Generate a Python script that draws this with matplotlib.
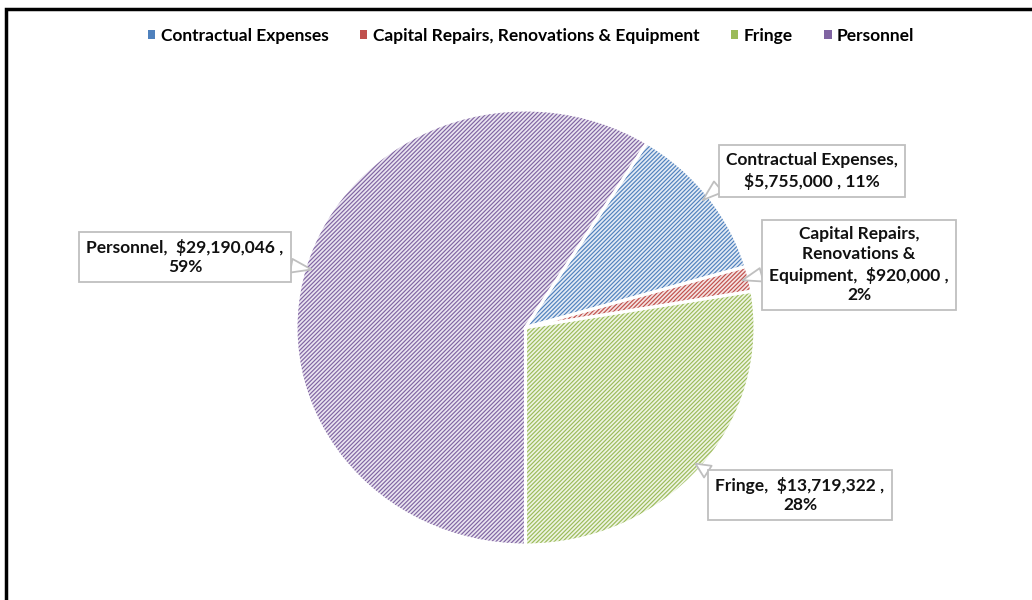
import matplotlib
matplotlib.use("Agg")
import matplotlib.pyplot as plt
from matplotlib.patches import Rectangle, Patch
import numpy as np

categories = ["Contractual Expenses", "Capital Repairs, Renovations & Equipment", "Fringe", "Personnel"]
values = [5755000, 920000, 13719322, 29190046]
value_labels = ["$5,755,000", "$920,000", "$13,719,322", "$29,190,046"]
pct_labels = ["11%", "2%", "28%", "59%"]
label_texts = [
    "Contractual Expenses,\n$5,755,000 , 11%",
    "Capital Repairs,\nRenovations &\nEquipment,  $920,000 ,\n2%",
    "Fringe,  $13,719,322 ,\n28%",
    "Personnel,  $29,190,046 ,\n59%",
]
hatch_colors = ["#4F81BD", "#C0504D", "#9BBB59", "#8064A2"]
face_colors = ["#E3EBF5", "#F5E3E2", "#EEF4E3", "#EAE5F0"]

plt.rcParams['font.family'] = ['Lato', 'DejaVu Sans']
plt.rcParams['hatch.linewidth'] = 0.85

W, H = 1032, 600
fig = plt.figure(figsize=(W / 100, H / 100), dpi=100)

cx, cy, rx, ry = 525.5, 327.5, 229.5, 217.5
ax = fig.add_axes([(cx - rx) / W, (H - cy - ry) / H, 2 * rx / W, 2 * ry / H])

total = sum(values)
start = 90 - (180 - 360 * (values[0] + values[1] + values[2]) / total)

wedges, _ = ax.pie(values, colors=face_colors, startangle=start, counterclock=False,
                   radius=1, wedgeprops=dict(linewidth=0))
for w, hc in zip(wedges, hatch_colors):
    w.set_hatch("////////")
    w.set_edgecolor(hc)
    w.set_linewidth(0)
ax.pie(values, startangle=start, counterclock=False, radius=1,
       wedgeprops=dict(fill=False, edgecolor="white", linewidth=2.2))
ax.set_xlim(-1, 1)
ax.set_ylim(-1, 1)
ax.set_aspect("auto")
ax.axis("off")

# label box centres (pixels) and anchor side on the box
box_px = [(812, 171), (859, 265), (800, 495), (185, 257)]
relpos = [(0.0, 0.25), (0.0, 0.4), (0.0, 1.0), (1.0, 0.3)]

def px2data(px, py):
    return ((px - cx) / rx, (cy - py) / ry)

for w, txt, (bx, by), rp in zip(wedges, label_texts, box_px, relpos):
    mid = np.deg2rad((w.theta1 + w.theta2) / 2)
    tip = (0.97 * np.cos(mid), 0.97 * np.sin(mid))
    ax.annotate(txt, xy=tip, xytext=px2data(bx, by), textcoords="data",
                ha="center", va="center", fontsize=12.5, fontweight="bold",
                color="#111111", linespacing=1.3, annotation_clip=False,
                bbox=dict(boxstyle="square,pad=0.4", fc="white", ec="#BFBFBF", lw=1.3),
                arrowprops=dict(arrowstyle="wedge,tail_width=0.8,shrink_factor=0.5",
                                fc="white", ec="#BFBFBF", lw=1.3, relpos=rp,
                                shrinkA=0, shrinkB=0))

handles = [Patch(facecolor=hc, edgecolor="none") for hc in hatch_colors]
fig.legend(handles, categories, loc="center", bbox_to_anchor=(531 / W, 1 - 36 / H),
           ncol=4, frameon=False, prop=dict(weight="bold", size=12.5),
           handlelength=0.45, handleheight=0.45, handletextpad=0.3, columnspacing=1.8)

fig.patches.append(Rectangle((5.5 / W, -0.1), 1.2, 1.1 - 8.5 / H, transform=fig.transFigure,
                             fill=False, edgecolor="black", linewidth=2.5))

fig.savefig("out.png", dpi=100)
